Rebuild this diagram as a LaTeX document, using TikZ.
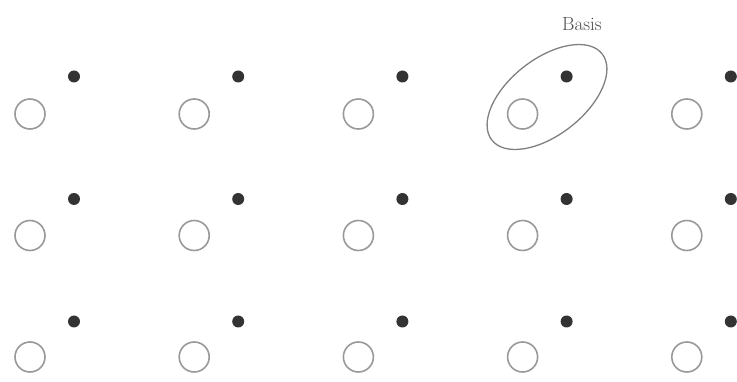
\documentclass[tikz,border=0pt]{standalone}
\usetikzlibrary{shapes.geometric}
\begin{document}
\begin{tikzpicture}[x=1pt,y=-1pt,
  opencirc/.style={circle,draw=black!40,line width=1.6pt,minimum size=30pt,inner sep=0pt},
  dotcirc/.style={circle,fill=black!80,minimum size=12pt,inner sep=0pt},
  basisring/.style={draw=black!50,line width=1.3pt}]
\useasboundingbox (0,0) rectangle (737,382);
\foreach \c in {0,...,4}{
  \foreach \r in {0,1,2}{
    \node[opencirc] (o\c\r) at ({30+164.2*\c},{114+121.5*\r}) {};
    \node[dotcirc] (d\c\r) at ({74+164.2*\c},{76.5+122.5*\r}) {};
  }
}
\node[basisring,ellipse,minimum width=140pt,minimum height=76pt,rotate=38,inner sep=0pt] (ell) at (547,97) {};
\node[text=black!70,font=\fontsize{19}{22}\selectfont] (basis) at (582,24) {Basis};
\end{tikzpicture}
\end{document}
